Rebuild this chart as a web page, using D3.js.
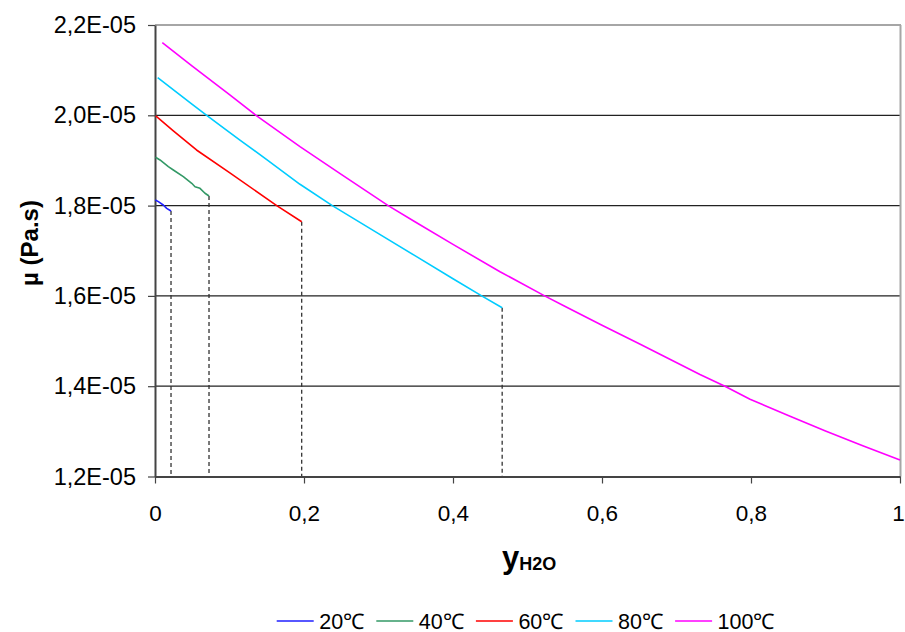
<!DOCTYPE html>
<html>
<head>
<meta charset="utf-8">
<script src="https://cdn.jsdelivr.net/npm/d3@7"></script>
<style>
  html, body { margin: 0; padding: 0; background: #ffffff; }
  svg { display: block; font-family: "Liberation Sans", Arial, sans-serif; }
</style>
</head>
<body>
<svg id="chart" width="905" height="632"></svg>
<script>
// ---------------- DATA ----------------
const seriesNames = ["20\u2103", "40\u2103", "60\u2103", "80\u2103", "100\u2103"];
const seriesColors = ["#1f1fff", "#339966", "#ff0000", "#00ccff", "#ff00ff"];

// y_H2O (x) and viscosity mu (Pa.s) for each temperature
const x20  = [0.0004, 0.0045, 0.0111, 0.0157, 0.0215];
const mu20 = [1.8124e-5, 1.8087e-5, 1.8013e-5, 1.7940e-5, 1.7880e-5];

const x40  = [0.0007, 0.0067, 0.0179, 0.0246, 0.0380, 0.0493, 0.0537, 0.0604, 0.0671, 0.0725];
const mu40 = [1.907e-5, 1.901e-5, 1.8862e-5, 1.8789e-5, 1.864e-5, 1.8494e-5, 1.8419e-5, 1.8383e-5, 1.8273e-5, 1.8213e-5];

const x60  = [0.001, 0.025, 0.0557, 0.1, 0.1634, 0.1969];
const mu60 = [1.9985e-5, 1.965e-5, 1.9232e-5, 1.873e-5, 1.800e-5, 1.7643e-5];

const x80  = [0.0036, 0.05, 0.0694, 0.1, 0.114, 0.15, 0.1946, 0.238, 0.3, 0.35, 0.4, 0.4385, 0.466];
const mu80 = [2.0833e-5, 2.024e-5, 2.000e-5, 1.962e-5, 1.945e-5, 1.902e-5, 1.8472e-5, 1.800e-5, 1.738e-5, 1.688e-5, 1.638e-5, 1.600e-5, 1.5739e-5];

const x100  = [0.0098, 0.05, 0.1, 0.1356, 0.1946, 0.25, 0.313, 0.35, 0.4, 0.4631, 0.523, 0.55, 0.6, 0.65, 0.7315, 0.765, 0.7987, 0.85, 0.9, 0.95, 1.0];
const mu100 = [2.1608e-5, 2.109e-5, 2.046e-5, 2.000e-5, 1.9305e-5, 1.869e-5, 1.800e-5, 1.763e-5, 1.714e-5, 1.6536e-5, 1.600e-5, 1.577e-5, 1.535e-5, 1.494e-5, 1.4259e-5, 1.400e-5, 1.371e-5, 1.335e-5, 1.301e-5, 1.268e-5, 1.2365e-5];

const xValues  = [x20, x40, x60, x80, x100];
const muValues = [mu20, mu40, mu60, mu80, mu100];

// dashed drop lines at the end of the four shorter series
const dropSeries = [0, 1, 2, 3];

const xTickValues = [0, 0.2, 0.4, 0.6, 0.8, 1];
const xTickLabels = ["0", "0,2", "0,4", "0,6", "0,8", "1"];
const yTickValues = [1.2e-5, 1.4e-5, 1.6e-5, 1.8e-5, 2.0e-5, 2.2e-5];
const yTickLabels = ["1,2E-05", "1,4E-05", "1,6E-05", "1,8E-05", "2,0E-05", "2,2E-05"];

// ---------------- LAYOUT ----------------
const svg = d3.select("#chart");
const L = 155, R = 900, T = 25, B = 476.5;

const x = d3.scaleLinear().domain([0, 1]).range([L, R]);
const y = d3.scaleLinear().domain([1.2e-5, 2.2e-5]).range([B, T]);

// gridlines
svg.append("g").selectAll("line")
  .data(yTickValues.filter(v => v > 1.25e-5 && v < 2.15e-5))
  .join("line")
  .attr("x1", L).attr("x2", R)
  .attr("y1", d => y(d)).attr("y2", d => y(d))
  .attr("stroke", "#222").attr("stroke-width", 1.2);

// plot-area border (top/right)
svg.append("line").attr("x1", L).attr("x2", R + 1).attr("y1", y(2.2e-5)).attr("y2", y(2.2e-5))
  .attr("stroke", "#a6a6a6").attr("stroke-width", 2);
svg.append("line").attr("x1", R + 0.5).attr("x2", R + 0.5).attr("y1", T).attr("y2", B)
  .attr("stroke", "#a6a6a6").attr("stroke-width", 2);

// dashed drop lines
dropSeries.forEach(i => {
  const xs = xValues[i], ys = muValues[i];
  const xe = xs[xs.length - 1], ye = ys[ys.length - 1];
  svg.append("line")
    .attr("x1", x(xe)).attr("x2", x(xe))
    .attr("y1", y(ye)).attr("y2", B)
    .attr("stroke", "#333").attr("stroke-width", 1.3)
    .attr("stroke-dasharray", "4,3");
});

// axes
const xAxis = d3.axisBottom(x).tickValues(xTickValues)
  .tickFormat((d, i) => xTickLabels[i]).tickSizeInner(7).tickSizeOuter(0).tickPadding(22);
const gx = svg.append("g").attr("transform", `translate(0,${B})`).call(xAxis);
gx.select(".domain").attr("stroke", "#444").attr("stroke-width", 2);
gx.selectAll(".tick line").attr("stroke", "#444").attr("stroke-width", 1.2);
gx.selectAll(".tick text").attr("font-size", 22.5).attr("fill", "#000")
  .attr("font-family", "Liberation Sans, Arial, sans-serif")
  .attr("dx", (d, i) => i === xTickValues.length - 1 ? -2 : 0);

const yAxis = d3.axisLeft(y).tickValues(yTickValues)
  .tickFormat((d, i) => yTickLabels[i]).tickSizeInner(7).tickSizeOuter(0).tickPadding(12);
const gy = svg.append("g").attr("transform", `translate(${L},0)`).call(yAxis);
gy.select(".domain").attr("stroke", "#444").attr("stroke-width", 2);
gy.selectAll(".tick line").attr("stroke", "#444").attr("stroke-width", 1.2);
gy.selectAll(".tick text").attr("font-size", 23.5).attr("fill", "#000")
  .attr("font-family", "Liberation Sans, Arial, sans-serif");

// series lines
const line = d3.line().x(d => x(d[0])).y(d => y(d[1]));
xValues.forEach((xs, i) => {
  const pts = xs.map((v, j) => [v, muValues[i][j]]);
  svg.append("path").datum(pts)
    .attr("d", line)
    .attr("fill", "none")
    .attr("stroke", seriesColors[i])
    .attr("stroke-width", 1.6)
    .attr("stroke-linejoin", "round");
});

// axis titles
svg.append("text")
  .attr("transform", "translate(38,243) rotate(-90)")
  .attr("text-anchor", "middle")
  .attr("font-size", 24).attr("font-weight", "bold")
  .text("\u00b5 (Pa.s)");

const xt = svg.append("text")
  .attr("x", 502).attr("y", 568)
  .attr("font-weight", "bold");
xt.append("tspan").attr("font-size", 31).text("y");
xt.append("tspan").attr("font-size", 18).attr("dy", 2).text("H2O");

// legend
const lg = svg.append("g");
seriesNames.forEach((name, i) => {
  const x0 = 276.7 + i * 99.6;
  lg.append("line").attr("x1", x0).attr("x2", x0 + 37)
    .attr("y1", 621).attr("y2", 621)
    .attr("stroke", seriesColors[i]).attr("stroke-width", 1.6);
  lg.append("text").attr("x", x0 + 42.5).attr("y", 628.5)
    .attr("font-size", 21.5).attr("fill", "#000")
    .text(name);
});
</script>
</body>
</html>
